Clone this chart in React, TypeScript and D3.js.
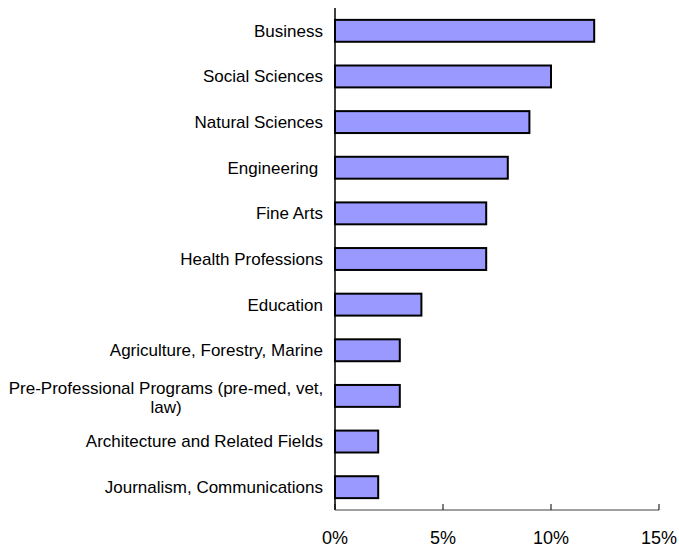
import React from "react";
import * as d3 from "d3";

const categories = [
  "Business",
  "Social Sciences",
  "Natural Sciences",
  "Engineering ",
  "Fine Arts",
  "Health Professions",
  "Education",
  "Agriculture, Forestry, Marine",
  "Pre-Professional Programs (pre-med, vet,|law)",
  "Architecture and Related Fields",
  "Journalism, Communications",
];
const values = [12, 10, 9, 8, 7, 7, 4, 3, 3, 2, 2];
const tickValues = [0, 5, 10, 15];

const W = 679;
const H = 550;
const left = 335;
const right = 659;
const top = 8;
const bottom = 510;

export default function App() {
  const x = d3.scaleLinear().domain([0, 15]).range([left, right]);
  const y = d3
    .scaleBand<string>()
    .domain(categories)
    .range([top, bottom])
    .paddingInner(0.52)
    .paddingOuter(0.26);
  const font = "'Liberation Sans', Arial, sans-serif";
  return (
    <svg
      width={W}
      height={H}
      style={{ position: "absolute", left: 0, top: 0, background: "#fff" }}
      fontFamily={font}
    >
      {categories.map((c, i) => {
        const yy = y(c)!;
        const bw = y.bandwidth();
        const cy = yy + bw / 2;
        const lines = c.split("|");
        return (
          <g key={c}>
            <rect
              x={x(0)}
              y={yy}
              width={x(values[i]) - x(0)}
              height={bw}
              fill="#9999FF"
              stroke="#000"
              strokeWidth={2}
            />
            {lines.length === 1 ? (
              <text
                x={323}
                y={cy}
                dy="0.35em"
                textAnchor="end"
                fontSize={17}
                fill="#000"
                style={{ whiteSpace: "pre" }}
              >
                {c}
              </text>
            ) : (
              lines.map((ln, j) => (
                <text
                  key={j}
                  x={166}
                  y={cy + (j - (lines.length - 1) / 2) * 19 + 2}
                  dy="0.35em"
                  textAnchor="middle"
                  fontSize={17}
                  fill="#000"
                >
                  {ln}
                </text>
              ))
            )}
          </g>
        );
      })}
      <line x1={left} x2={left} y1={top} y2={bottom} stroke="#000" strokeWidth={1.5} />
      <line x1={left} x2={right} y1={bottom} y2={bottom} stroke="#808080" strokeWidth={1.5} />
      {tickValues.map((t) => (
        <g key={t}>
          <line x1={x(t)} x2={x(t)} y1={bottom} y2={bottom - 6} stroke="#000" strokeWidth={1} />
          <text
            x={x(t)}
            y={538}
            dy="0.35em"
            textAnchor="middle"
            fontSize={18}
            fill="#000"
          >
            {t}%
          </text>
        </g>
      ))}
    </svg>
  );
}
